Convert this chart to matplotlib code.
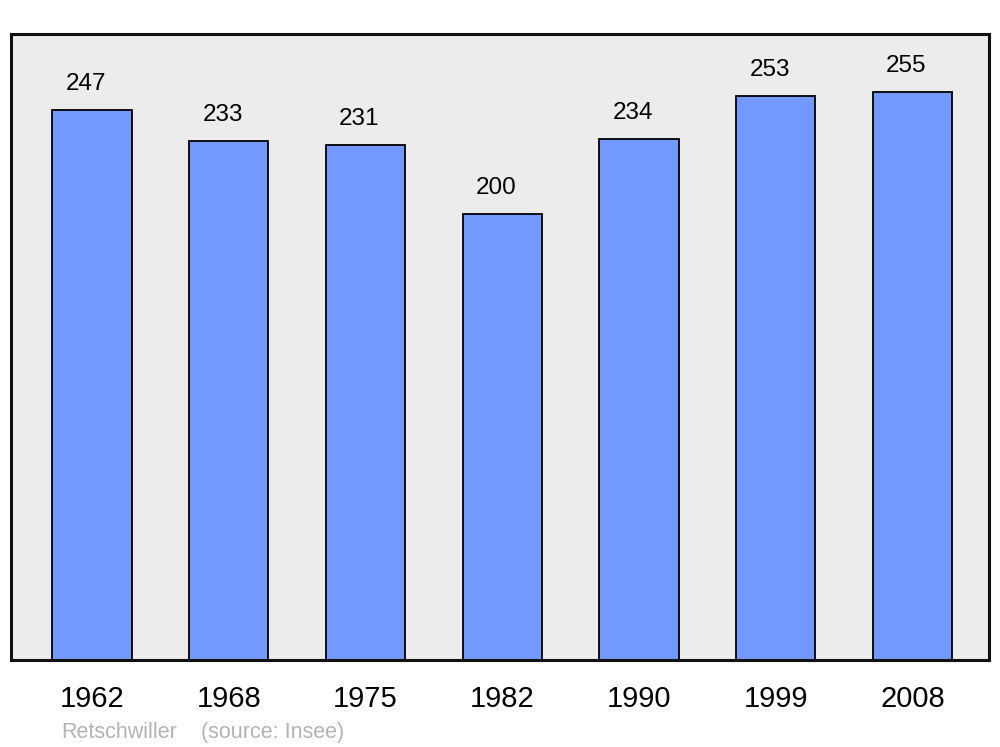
import matplotlib
matplotlib.use("Agg")
import matplotlib.pyplot as plt

plt.rcParams['font.family'] = ['Liberation Sans', 'DejaVu Sans']

# Population data (Insee)
years = ["1962", "1968", "1975", "1982", "1990", "1999", "2008"]
population = [247, 233, 231, 200, 234, 253, 255]
commune = "Retschwiller"
source = "(source: Insee)"

fig = plt.figure(figsize=(10, 7.47), dpi=100)
ax = fig.add_axes([0.011, 87 / 747, 0.978, 626 / 747])
ax.set_facecolor("#ececec")

x = list(range(len(years)))
ax.bar(x, population, width=0.58, color="#7399ff", edgecolor="black",
       linewidth=1.3, zorder=2)

for xi, v in zip(x, population):
    ax.text(xi - 0.045, v + 6.8, str(v), ha="center", va="bottom",
            fontsize=17.5, color="black")

ax.set_xlim(-0.592, 6.56)
ax.set_ylim(0, 281)
ax.set_yticks([])
ax.set_xticks(x)
ax.set_xticklabels(years, fontsize=21)
ax.tick_params(axis="x", length=0, pad=18)

for spine in ax.spines.values():
    spine.set_linewidth(2.2)
    spine.set_color("#111111")

fig.text(0.061, 1 - 738 / 747, commune, fontsize=15.5, color="#b3b3b3",
         ha="left", va="baseline")
fig.text(0.201, 1 - 738 / 747, source, fontsize=15.5, color="#b3b3b3",
         ha="left", va="baseline")

fig.savefig("out.png", dpi=100, facecolor="white")
